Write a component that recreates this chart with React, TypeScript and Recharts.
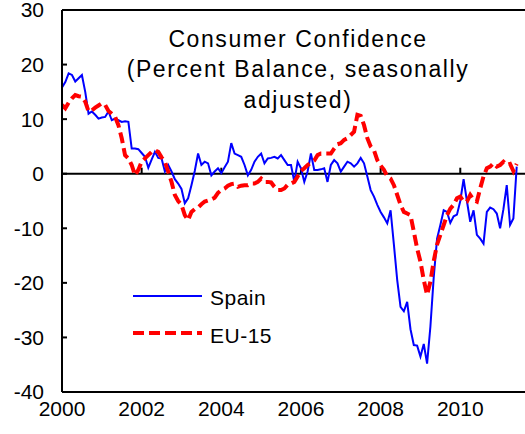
import React from 'react';
import { LineChart, Line, XAxis, YAxis, ReferenceLine, Legend } from 'recharts';

const startYear = 2000;

const spain = [
  15.8, 16.8, 18.4, 18.1, 16.9, 17.5, 18.1, 15.0, 11.0, 11.4, 10.8, 10.1,
  10.3, 10.4, 11.4, 9.8, 10.1, 9.8, 9.5, 9.6, 9.5, 4.6, 4.6, 4.5,
  3.8, 3.1, 1.1, 2.6, 4.0, 2.9, 2.8, 0.4, 1.6, 0.4, -1.0, -1.8,
  -2.8, -5.4, -4.5, -2.1, 0.5, 3.7, 1.6, 2.2, 1.9, -0.3, 0.4, 1.0,
  0.1, 1.2, 2.2, 5.6, 3.7, 3.4, 3.1, 1.6, -0.3, 0.7, 2.2, 3.1,
  3.7, 1.9, 2.8, 2.9, 3.1, 2.8, 3.4, 2.5, 1.6, 1.6, -1.5, 2.2,
  1.0, -1.5, 0.4, 3.7, 0.7, 0.7, 0.8, 1.0, -1.5, 1.6, 2.5, 1.9,
  0.4, 1.3, 2.2, 1.9, 1.3, 1.9, 2.9, 1.9, -0.5, -3.0, -4.2, -5.7,
  -7.0, -8.0, -9.1, -6.7, -13.0, -19.5, -24.4, -25.2, -23.5, -28.5, -31.4, -31.5,
  -33.5, -31.2, -34.8, -28.0, -19.0, -11.9, -9.4, -6.7, -7.0, -9.0, -7.8, -7.5,
  -5.0, -1.0, -5.0, -8.8, -6.7, -11.2, -11.9, -12.8, -7.0, -6.2, -6.5, -7.3,
  -10.0, -6.5, -2.1, -9.4, -8.2, 1.3,
];

const eu15 = [
  12.6, 12.0, 13.0, 13.8, 14.4, 14.2, 14.1, 13.2, 11.4, 11.6, 12.1, 12.5,
  12.9, 12.6, 11.5, 11.0, 10.4, 8.9, 6.5, 3.4, 2.8, 1.6, -0.3, 0.7,
  2.2, 2.8, 3.4, 4.0, 4.3, 4.0, 3.0, 2.2, 0.4, -1.5, -3.9, -5.0,
  -5.7, -7.6, -8.5, -7.0, -6.5, -6.2, -5.6, -5.1, -4.9, -4.7, -4.4, -3.5,
  -3.0, -2.7, -2.2, -1.9, -1.8, -2.4, -2.2, -2.1, -2.1, -1.8, -1.8, -1.5,
  -0.9, -1.5, -1.5, -1.6, -2.4, -3.0, -3.0, -2.7, -2.0, -1.8, -1.5, -0.5,
  0.5, 1.0, 1.6, 2.0, 2.4, 3.4, 3.7, 3.7, 3.7, 3.7, 4.6, 5.4,
  5.6, 6.2, 6.5, 7.1, 7.7, 10.8, 10.6, 8.9, 6.5, 5.0, 4.3, 2.5,
  1.5, 0.7, -0.5, -0.9, -2.1, -3.9, -5.7, -7.0, -7.3, -7.6, -10.6, -13.7,
  -16.1, -19.5, -22.2, -19.8, -16.0, -13.0, -11.2, -9.4, -7.6, -6.4, -5.7, -4.5,
  -4.2, -5.1, -5.1, -3.9, -4.8, -5.1, -2.7, -0.5, 1.0, 1.3, 1.9, 1.3,
  1.6, 2.2, 1.6, 1.8, 0.5, 1.8,
];

const xTicks = [2000, 2002, 2004, 2006, 2008, 2010];
const yTicks = [-40, -30, -20, -10, 0, 10, 20, 30];
const titleLines = ['Consumer Confidence', '(Percent Balance, seasonally', 'adjusted)'];

const series = [
  { key: 'spain', name: 'Spain', color: '#0000FF', width: 2, dash: undefined as string | undefined },
  { key: 'eu15', name: 'EU-15', color: '#FF0000', width: 4, dash: '11 5' },
];

const data = spain.map((v, i) => ({ t: startYear + i / 12, spain: v, eu15: eu15[i] }));

const FONT = '"Liberation Sans", Arial, sans-serif';

const renderLegend = () => (
  <svg width={160} height={74} style={{ display: 'block' }}>
    {series.map((s, i) => (
      <g key={s.key}>
        <line
          x1={0}
          x2={69}
          y1={16 + i * 37}
          y2={16 + i * 37}
          stroke={s.color}
          strokeWidth={s.width}
          strokeDasharray={s.dash}
        />
        <text x={77} y={25 + i * 38} fontSize={21} fontFamily={FONT} fill="#000" letterSpacing={0.5}>
          {s.name}
        </text>
      </g>
    ))}
  </svg>
);

export default function App() {
  return (
    <div style={{ position: 'absolute', left: 0, top: 0, width: 525, height: 434, overflow: 'hidden', background: '#fff' }}>
      <LineChart width={530} height={434} data={data} margin={{ top: 10, right: 5, left: 0, bottom: 2 }}>
        <XAxis
          dataKey="t"
          type="number"
          domain={[2000, 2011.625]}
          ticks={xTicks}
          interval={0}
          height={40}
          tickSize={0}
          tickMargin={9}
          tickLine={false}
          axisLine={{ stroke: '#000', strokeWidth: 2 }}
          tick={{ fill: '#000', fontSize: 21, fontFamily: FONT }}
          allowDataOverflow
        />
        <YAxis
          type="number"
          domain={[-40, 30]}
          ticks={yTicks}
          interval={0}
          width={62}
          tickSize={-5}
          tickMargin={23}
          tickLine={{ stroke: '#000', strokeWidth: 2 }}
          axisLine={{ stroke: '#000', strokeWidth: 2 }}
          tick={{ fill: '#000', fontSize: 21, fontFamily: FONT }}
        />
        <ReferenceLine y={30} stroke="#000" strokeWidth={2} />
        <ReferenceLine y={0} stroke="#000" strokeWidth={2} />
        {xTicks.map((t) => (
          <ReferenceLine
            key={t}
            segment={[{ x: t, y: 0 }, { x: t, y: 1.1 }]}
            stroke="#000"
            strokeWidth={2}
          />
        ))}
        {series.map((s) => (
          <Line
            key={s.key}
            type="linear"
            dataKey={s.key}
            name={s.name}
            stroke={s.color}
            strokeWidth={s.width}
            strokeDasharray={s.dash}
            dot={false}
            activeDot={false}
            isAnimationActive={false}
          />
        ))}
        <Legend
          layout="vertical"
          align="center"
          verticalAlign="middle"
          content={renderLegend}
          wrapperStyle={{ left: 133, top: 280, width: 160, height: 74 }}
        />
      </LineChart>
      <svg width={525} height={434} style={{ position: 'absolute', left: 0, top: 0, pointerEvents: 'none' }}>
        {titleLines.map((line, i) => (
          <text
            key={i}
            x={298}
            y={46.5 + i * 30.5}
            textAnchor="middle"
            fontSize={23}
            fontFamily={FONT}
            letterSpacing={1.6}
            fill="#000"
          >
            {line}
          </text>
        ))}
      </svg>
    </div>
  );
}
